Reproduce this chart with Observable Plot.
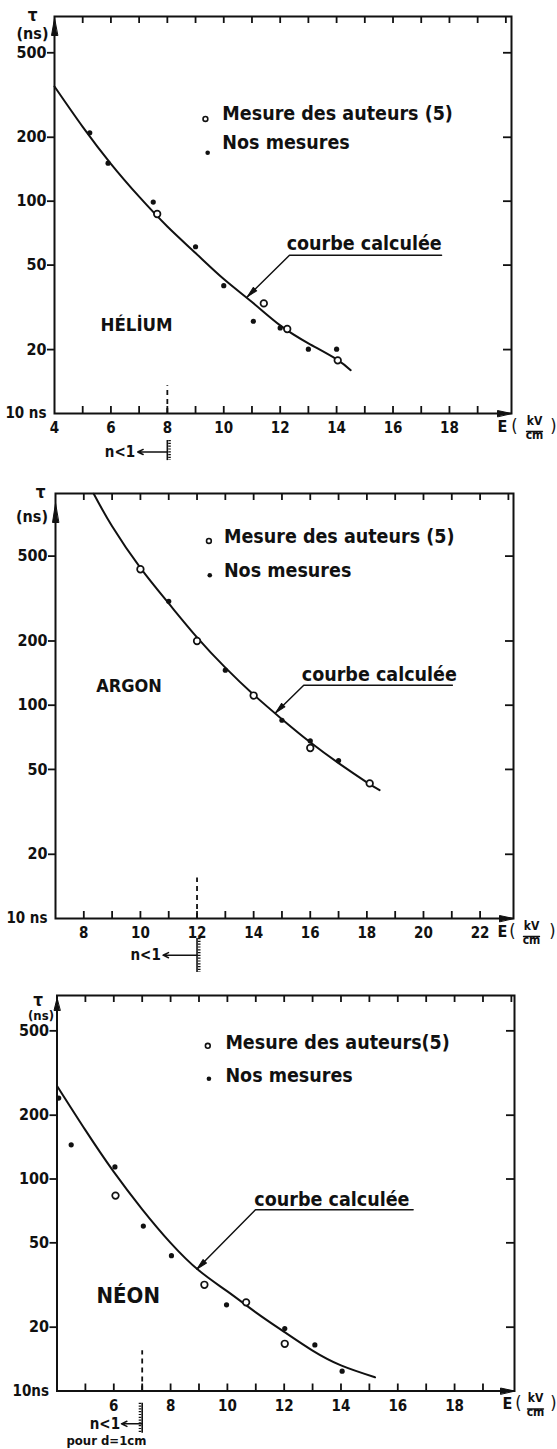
<!DOCTYPE html>
<html><head><meta charset="utf-8">
<script src="https://cdn.jsdelivr.net/npm/d3@7"></script>
<script src="https://cdn.jsdelivr.net/npm/@observablehq/plot@0.6"></script>
<style>
html,body{margin:0;padding:0;background:#fff;}
#chart{width:557px;}
#chart svg{display:block;}
</style></head><body><div id="chart"></div>
<script>
// ---------- DATA (E in kV/cm, tau in ns) ----------
const yTickValues = [20, 50, 100, 200, 500];

const heliumXLabels = [4, 6, 8, 10, 12, 14, 16, 18];
const heliumMinor = [5, 6, 7, 8, 9, 10, 11, 12, 13, 14, 15, 16, 17, 18, 19, 20];
const heliumCurve = [[4, 347], [5, 224], [6, 150], [7, 105], [8, 76], [9, 57], [10, 43], [11, 33.5], [12, 26], [13, 21.4], [14, 18], [14.5, 16]];
const heliumOpen = [[7.64, 87], [11.42, 33], [12.25, 25], [14.04, 17.8]];
const heliumFilled = [[5.25, 210], [5.9, 151], [7.5, 99], [9, 61], [10, 40], [11.05, 27.2], [12, 25.3], [13, 20.1], [14, 20.1]];
const heliumPointer = [[10.83, 35.4], [12.33, 55.6], [17.72, 55.6]];

const argonXLabels = [8, 10, 12, 14, 16, 18, 20, 22];
const argonMinor = [8, 9, 10, 11, 12, 13, 14, 15, 16, 17, 18, 19, 20, 21, 22, 23];
const argonCurve = [[8.35, 980], [9, 690], [10, 440], [11, 300], [12, 208], [13, 150], [14, 112], [15, 86], [16, 67], [17, 53.5], [18, 43.5], [18.45, 40]];
const argonOpen = [[10, 434], [12, 200], [14, 111], [16, 63], [18.1, 43]];
const argonFilled = [[11, 307], [13, 146], [15, 85], [16, 68], [17, 55]];
const argonPointer = [[14.77, 92], [15.77, 124], [21.02, 124]];

const neonXLabels = [6, 8, 10, 12, 14, 16, 18];
const neonMinor = [5, 6, 7, 8, 9, 10, 11, 12, 13, 14, 15, 16, 17, 18, 19, 20];
const neonCurve = [[4, 275], [5, 170], [6, 108], [7, 72], [8, 50], [9, 37], [10, 29.5], [11, 23.5], [12, 19], [13, 15.5], [14, 13.2], [15.2, 11.6]];
const neonOpen = [[6.06, 83.5], [9.19, 31.7], [10.66, 26.2], [12.02, 16.7]];
const neonFilled = [[4.06, 241], [4.5, 145], [6.04, 114], [7.04, 60], [8.03, 43.5], [9.97, 25.5], [12.02, 19.7], [13.08, 16.5], [14.04, 12.4]];
const neonPointer = [[8.93, 37.6], [10.99, 71.6], [16.54, 71.6]];

// text labels
const gasNames = ["HÉLİUM", "ARGON", "NÉON"];
const legendOpenTexts = ["Mesure des auteurs (5)", "Mesure des auteurs (5)", "Mesure des auteurs(5)"];
const legendFilledText = "Nos mesures";
const curveText = "courbe calculée";
const originLabels = ["10 ns", "10 ns", "10ns"];

// ---------- DRAWING ----------
const INK = "#111";
const FONT = "'DejaVu Sans Condensed', 'DejaVu Sans', sans-serif";
const arrowHead = {draw(context, l, r) { context.moveTo(0, -l); context.lineTo(-r, 0); context.lineTo(r, 0); context.closePath(); }};
const barShape = {draw(context, l) { context.moveTo(0, 0); context.lineTo(0, -l); }};

function panel(p) {
  const W = 557;
  const innerW = W - p.ml - p.mr;
  const innerH = p.height - p.mt - p.mb;
  const X = d => d[0], Y = d => d[1];
  const T = {textAnchor: "middle", fill: INK};
  const marks = [
    Plot.frame({stroke: INK, strokeWidth: 2}),
    Plot.tickX(p.minorTop, {x: d => d, insetBottom: innerH - 7, stroke: INK, strokeWidth: 1.8}),
    Plot.tickX(p.minorBottom, {x: d => d, insetTop: innerH - 7, stroke: INK, strokeWidth: 1.8}),
    Plot.tickY(yTickValues, {y: d => d, insetLeft: innerW - 8, stroke: INK, strokeWidth: 1.8}),
    Plot.axisY({ticks: yTickValues, tickSize: 7, tickPadding: 1, tickFormat: d => String(d), label: null, fontSize: 16, stroke: INK, strokeWidth: 1.8, fill: INK}),
    Plot.axisY({ticks: [10], tickSize: 0, tickPadding: 8, tickFormat: () => p.originLabel, label: null, fontSize: 15, fill: INK}),
    Plot.axisX({ticks: p.xLabels, tickSize: 0, tickPadding: 9, tickFormat: d => String(d), label: null, fontSize: 15, fill: INK}),
    // axis arrows
    Plot.vector([0], {frameAnchor: "top-left", anchor: "end", rotate: 0, length: p.yArrow.len, r: 3, dy: p.yArrow.dy, shape: arrowHead, fill: INK, stroke: INK, strokeWidth: 1}),
    Plot.vector([0], {frameAnchor: "bottom-right", anchor: "end", rotate: 90, length: 14, r: 3, shape: arrowHead, fill: INK, stroke: INK, strokeWidth: 1}),
    // tau label
    Plot.text(["τ"], {...T, frameAnchor: "top-left", text: d => d, dx: p.tau.dx, dy: p.tau.dy, fontSize: 17}),
    Plot.text(["(ns)"], {...T, frameAnchor: "top-left", text: d => d, dx: p.ns.dx, dy: p.ns.dy, fontSize: p.ns.size}),
    // E label
    Plot.text(["E"], {...T, frameAnchor: "bottom-right", text: d => d, dx: p.e.E, dy: 18, fontSize: 16}),
    Plot.text(["("], {...T, frameAnchor: "bottom-right", text: d => d, dx: p.e.open, dy: 18, fontSize: 18, fontWeight: "normal"}),
    Plot.text([")"], {...T, frameAnchor: "bottom-right", text: d => d, dx: p.e.close, dy: 18, fontSize: 18, fontWeight: "normal"}),
    Plot.text(["kV"], {...T, frameAnchor: "bottom-right", text: d => d, dx: p.e.frac, dy: 11, fontSize: 12}),
    Plot.text(["cm"], {...T, frameAnchor: "bottom-right", text: d => d, dx: p.e.frac, dy: 25, fontSize: 12}),
    Plot.vector([0], {frameAnchor: "bottom-right", anchor: "middle", rotate: 90, length: 16, dx: p.e.frac, dy: 18, shape: barShape, stroke: INK, strokeWidth: 1.4}),
    // dashed limit line
    Plot.ruleX([p.dash], {x: d => d.E, y1: 10, y2: d => d.top, stroke: INK, strokeWidth: 1.8, strokeDasharray: "5,4"}),
    // n<1 marker
    Plot.ruleX([p.limit], {x: d => d.E, y1: d => d.t1, y2: d => d.t2, stroke: INK, strokeWidth: 1.6}),
    Plot.ruleX([p.limit], {x: d => d.E, y1: d => d.t1, y2: d => d.t2, dx: p.limit.side * 2.2, stroke: INK, strokeWidth: 2.6, strokeDasharray: "1.2,1.6"}),
    Plot.arrow([p.limit], {x1: d => d.E, x2: d => d.to, y1: d => d.ta, y2: d => d.ta, stroke: INK, strokeWidth: 1.5, headLength: 6, headAngle: 50}),
    Plot.text([p.limit], {x: d => d.tx, y: d => d.ta, text: () => "n<1", textAnchor: "end", fontSize: 15, fill: INK}),
    // curve and points
    Plot.line(p.curve, {x: X, y: Y, curve: "natural", stroke: INK, strokeWidth: 2}),
    Plot.dot(p.open, {x: X, y: Y, r: 3.3, stroke: INK, strokeWidth: 1.7, fill: "white"}),
    Plot.dot(p.filled, {x: X, y: Y, r: 2.6, fill: INK, stroke: "none"}),
    // courbe calculée pointer
    Plot.line(p.pointer, {x: X, y: Y, stroke: INK, strokeWidth: 1.5}),
    Plot.vector([p.pointer[0]], {x: X, y: Y, anchor: "end", rotate: 225, length: 11, r: 2.4, shape: arrowHead, fill: INK, stroke: INK, strokeWidth: 1}),
    Plot.text([p.curveLabel], {x: d => d.E, y: d => d.t, text: () => curveText, textAnchor: "start", fontSize: 19.5, fill: INK}),
    // legend
    Plot.dot([p.legend.o], {x: X, y: Y, r: 2.4, stroke: INK, strokeWidth: 1.6, fill: "white"}),
    Plot.dot([p.legend.f], {x: X, y: Y, r: 2.3, fill: INK, stroke: "none"}),
    Plot.text([p.legend.to], {x: X, y: Y, text: () => p.openText, textAnchor: "start", fontSize: 19.5, fill: INK}),
    Plot.text([p.legend.tf], {x: X, y: Y, text: () => legendFilledText, textAnchor: "start", fontSize: 19.5, fill: INK}),
    // gas name
    Plot.text([p.gas], {x: d => d.E, y: d => d.t, text: () => p.gasName, textAnchor: "start", fontSize: p.gas.size, fill: INK})
  ];
  if (p.pourText) {
    marks.push(Plot.text([p.pourText], {x: d => d.E, y: d => d.t, text: () => "pour d=1cm", fontSize: 13, fill: INK}));
  }
  return Plot.plot({
    width: W, height: p.height,
    marginTop: p.mt, marginBottom: p.mb, marginLeft: p.ml, marginRight: p.mr,
    x: {domain: p.xDomain},
    y: {type: "log", domain: p.yDomain},
    style: {fontFamily: FONT, fontWeight: "bold", color: INK, background: "white", overflow: "visible"},
    marks
  });
}

const panels = [
  {
    height: 470, mt: 16, mb: 57, ml: 54, mr: 46,
    xDomain: [4, 20.2], yDomain: [10, 741],
    xLabels: heliumXLabels, minorTop: heliumMinor, minorBottom: heliumMinor.filter(v => v < 20),
    originLabel: originLabels[0],
    curve: heliumCurve, open: heliumOpen, filled: heliumFilled, pointer: heliumPointer,
    curveLabel: {E: 12.23, t: 63},
    legend: {o: [9.35, 244], f: [9.43, 169], to: [9.95, 258], tf: [9.95, 188]},
    openText: legendOpenTexts[0],
    gas: {E: 5.63, t: 26, size: 18.5}, gasName: gasNames[0],
    dash: {E: 8, top: 13.5},
    limit: {E: 8, t1: 7.46, t2: 6.0, ta: 6.59, to: 6.95, tx: 6.86, side: 1},
    yArrow: {dy: 2, len: 17},
    tau: {dx: -22, dy: -8}, ns: {dx: -22, dy: 11, size: 16},
    e: {E: -9, open: 3, frac: 23, close: 42}
  },
  {
    height: 505, mt: 23, mb: 57, ml: 55, mr: 44,
    xDomain: [7, 23.18], yDomain: [10, 983],
    xLabels: argonXLabels, minorTop: argonMinor, minorBottom: argonMinor.filter(v => v < 23),
    originLabel: originLabels[1],
    curve: argonCurve, open: argonOpen, filled: argonFilled, pointer: argonPointer,
    curveLabel: {E: 15.7, t: 139},
    legend: {o: [12.42, 589], f: [12.45, 407], to: [12.95, 615], tf: [12.95, 429]},
    openText: legendOpenTexts[1],
    gas: {E: 8.44, t: 123, size: 18}, gasName: gasNames[1],
    dash: {E: 12, top: 15.5},
    limit: {E: 12, t1: 8.06, t2: 5.58, ta: 6.73, to: 10.8, tx: 10.72, side: 1},
    yArrow: {dy: 10, len: 19},
    tau: {dx: -15, dy: -8}, ns: {dx: -23.5, dy: 17, size: 16},
    e: {E: -11, open: -1, frac: 18, close: 39}
  },
  {
    height: 474, mt: 20, mb: 58.5, ml: 56.5, mr: 43,
    xDomain: [4, 20.11], yDomain: [10, 734],
    xLabels: neonXLabels, minorTop: neonMinor, minorBottom: neonMinor.filter(v => v < 20),
    originLabel: originLabels[2],
    curve: neonCurve, open: neonOpen, filled: neonFilled, pointer: neonPointer,
    curveLabel: {E: 10.95, t: 80},
    legend: {o: [9.31, 425], f: [9.35, 297], to: [9.93, 440], tf: [9.93, 308]},
    openText: legendOpenTexts[2],
    gas: {E: 5.39, t: 28.2, size: 22}, gasName: gasNames[2],
    dash: {E: 7, top: 15.5},
    limit: {E: 7, t1: 8.76, t2: 6.32, ta: 7.0, to: 6.27, tx: 6.22, side: -1},
    pourText: {E: 5.74, t: 5.84},
    yArrow: {dy: 3, len: 12},
    tau: {dx: -19, dy: -2}, ns: {dx: -16, dy: 15, size: 13},
    e: {E: -7, open: 4, frac: 21, close: 39}
  }
];

const root = document.getElementById("chart");
for (const p of panels) root.appendChild(panel(p));
</script>
</body></html>
